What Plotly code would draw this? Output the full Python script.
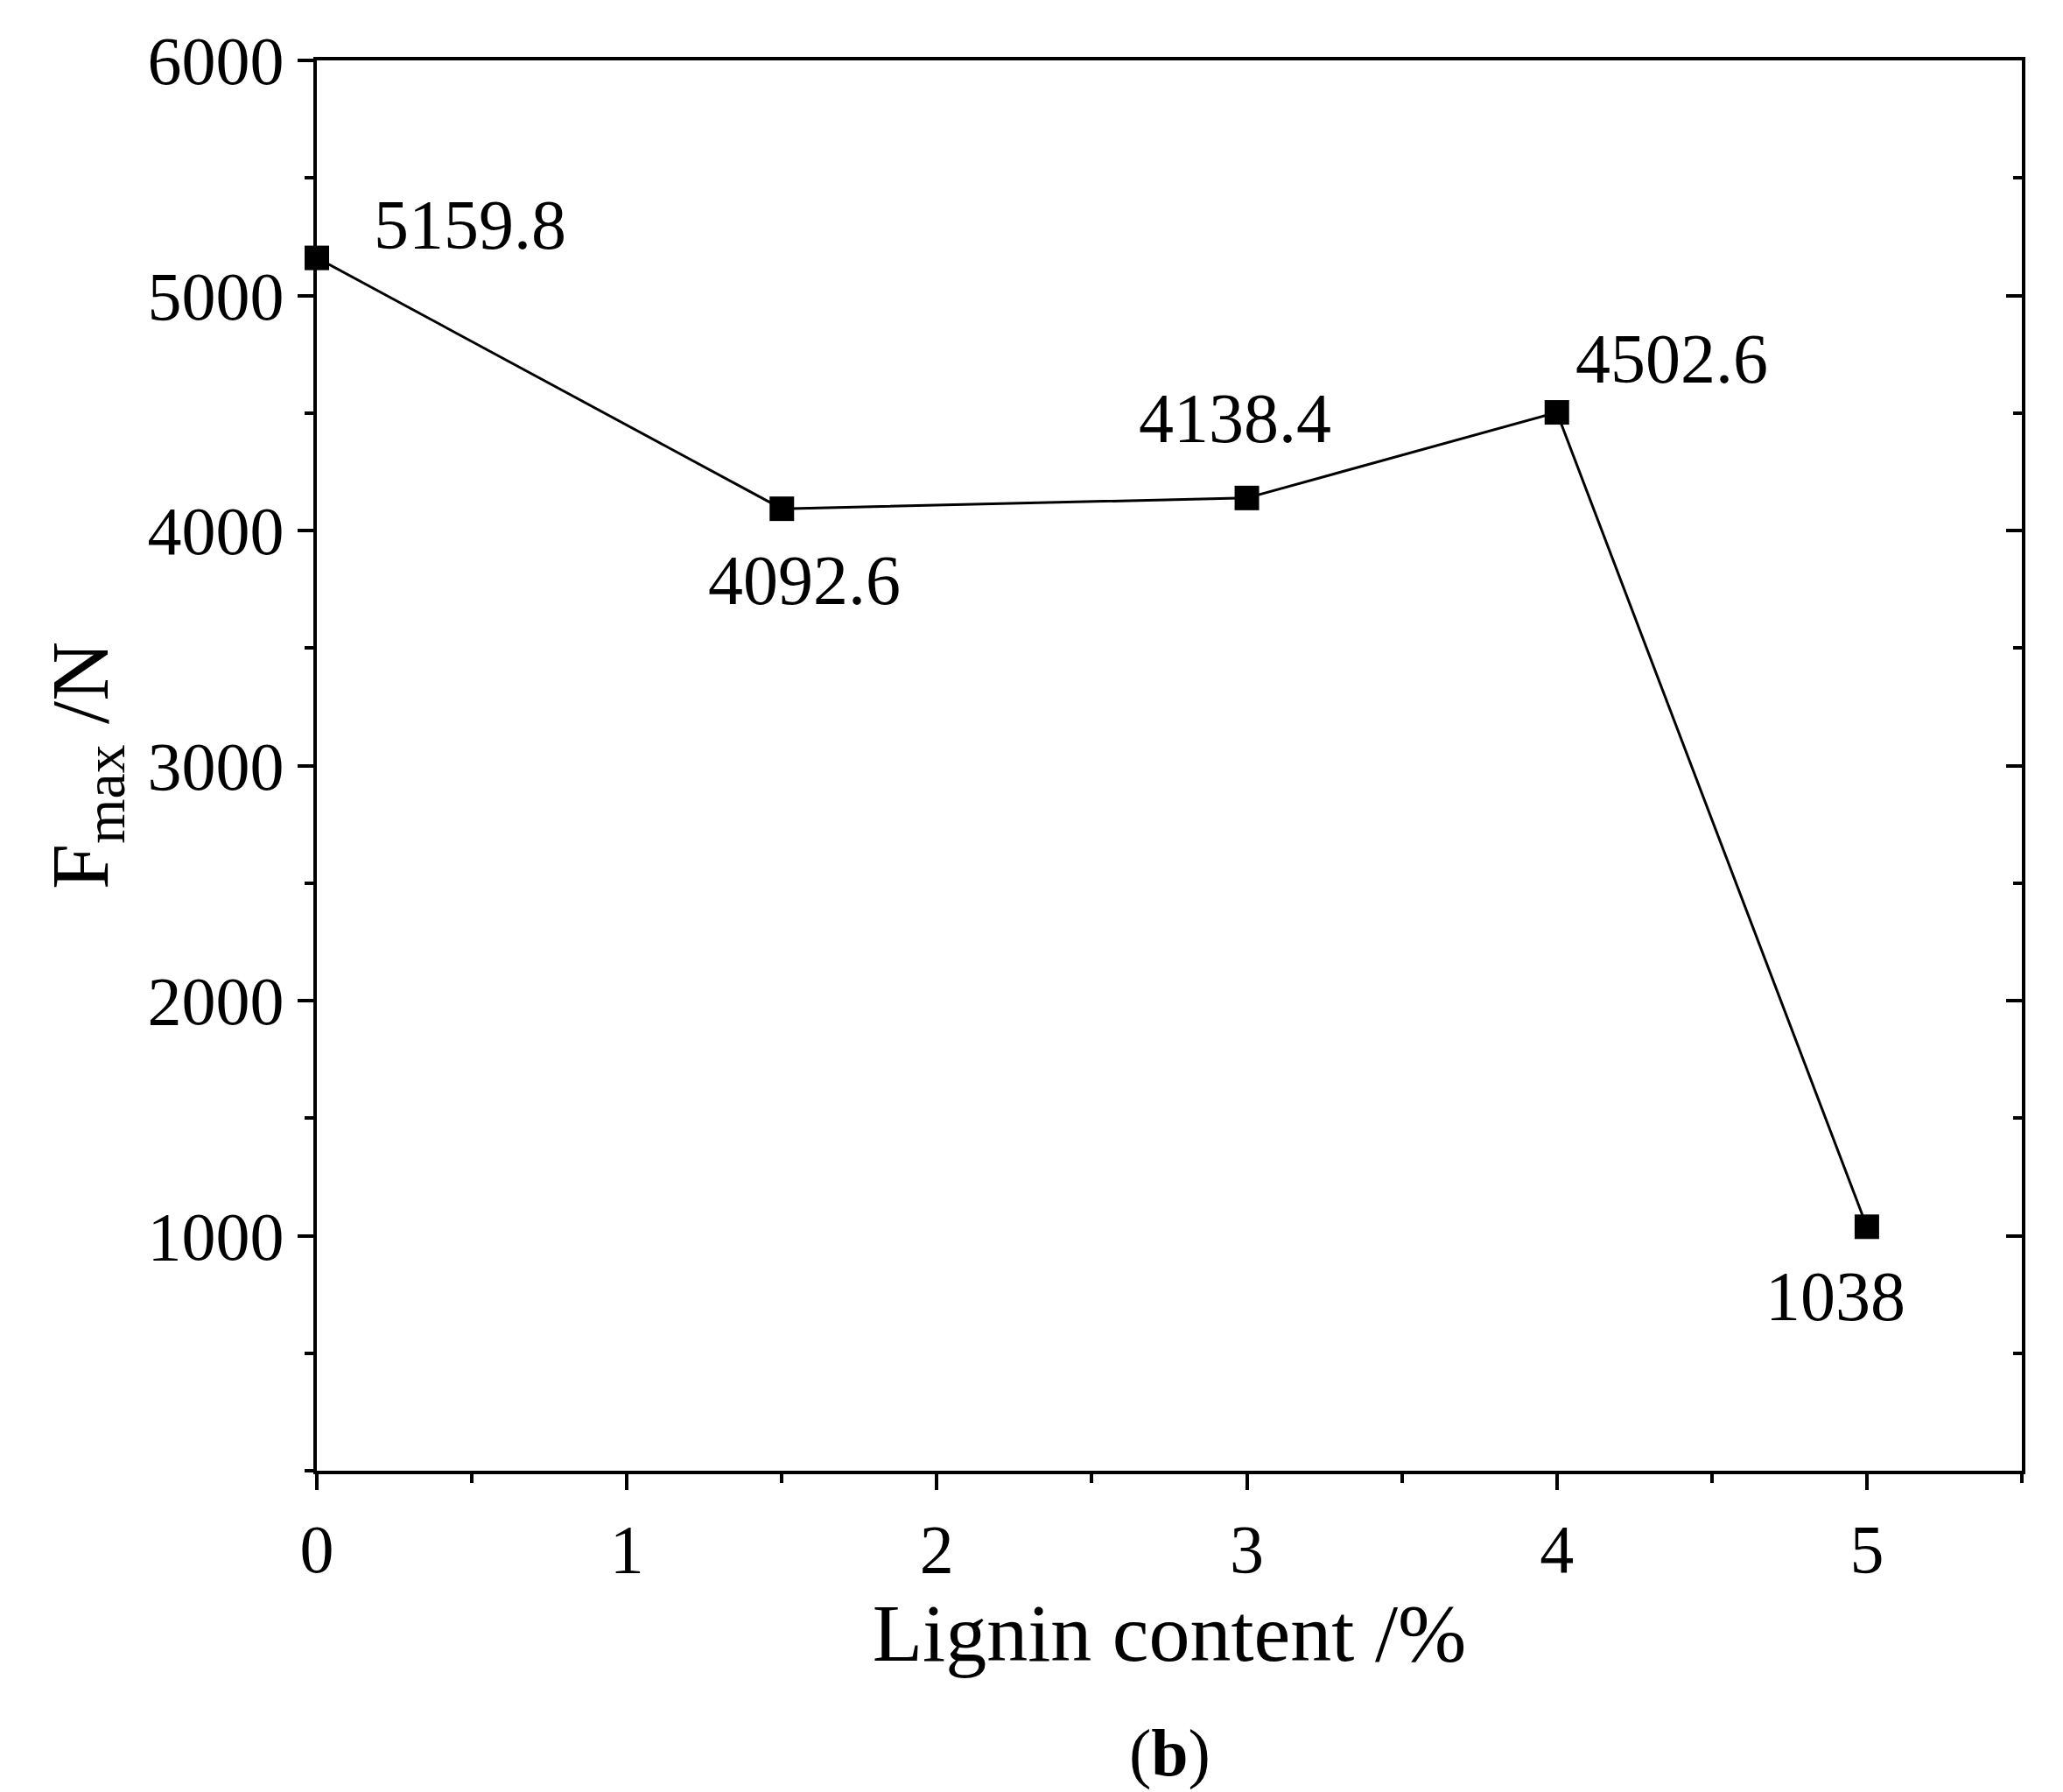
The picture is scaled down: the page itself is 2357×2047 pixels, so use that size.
import plotly.graph_objects as go

lignin = [0, 1.5, 3, 4, 5]
fmax = [5159.8, 4092.6, 4138.4, 4502.6, 1038]
labels = ["5159.8", "4092.6", "4138.4", "4502.6", "1038"]
# label offsets in pixels (x, y)
shifts = [(175, 38), (26, -82), (-14, 91), (131, 61), (-36, -80)]

font = "Liberation Serif"

fig = go.Figure()
fig.add_trace(go.Scatter(x=lignin, y=fmax, mode="lines+markers",
                         line=dict(color="black", width=3),
                         marker=dict(symbol="square", size=28, color="black"),
                         showlegend=False, cliponaxis=False))
# invisible trace so the right axis draws its inward ticks
fig.add_trace(go.Scatter(x=[lignin[0]], y=[fmax[0]], yaxis="y2", mode="markers",
                         marker=dict(opacity=0), showlegend=False, hoverinfo="skip"))

for x, y, t, (dx, dy) in zip(lignin, fmax, labels, shifts):
    fig.add_annotation(x=x, y=y, text=t, showarrow=False, xshift=dx, yshift=dy,
                       font=dict(family=font, size=80, color="black"))

fig.add_annotation(x=0.5, y=-0.2, xref="paper", yref="paper", text="(<b>b</b>)",
                   showarrow=False, yanchor="middle",
                   font=dict(family=font, size=76, color="black"))

axis_common = dict(showgrid=False, zeroline=False, showline=True, linecolor="black",
                   linewidth=4, tickcolor="black", tickwidth=4,
                   tickfont=dict(family=font, size=78, color="black"))

fig.update_layout(
    width=2357, height=2047,
    margin=dict(l=354, r=55, t=61, b=375),
    plot_bgcolor="white", paper_bgcolor="white",
    xaxis=dict(range=[0, 5.5], dtick=1, tick0=0, ticks="outside", ticklen=18,
               mirror=True,
               minor=dict(dtick=0.5, ticks="outside", ticklen=10, tickcolor="black", tickwidth=4),
               title=dict(text="Lignin content /%", font=dict(family=font, size=94, color="black"),
                          standoff=5),
               **axis_common),
    yaxis=dict(range=[0, 6000], tickvals=[1000, 2000, 3000, 4000, 5000, 6000],
               ticks="outside", ticklen=18, mirror=True,
               minor=dict(dtick=500, ticks="outside", ticklen=10, tickcolor="black", tickwidth=4),
               title=dict(text="F<sub>max</sub> /N", font=dict(family=font, size=94, color="black"),
                          standoff=15),
               **axis_common),
    yaxis2=dict(range=[0, 6000], overlaying="y", side="right", showticklabels=False,
                tickvals=[1000, 2000, 3000, 4000, 5000, 6000], ticks="inside", ticklen=18,
                minor=dict(dtick=500, ticks="inside", ticklen=10, tickcolor="black", tickwidth=4),
                showgrid=False, zeroline=False, showline=False, tickcolor="black", tickwidth=4),
)

fig.write_html("out.html")
